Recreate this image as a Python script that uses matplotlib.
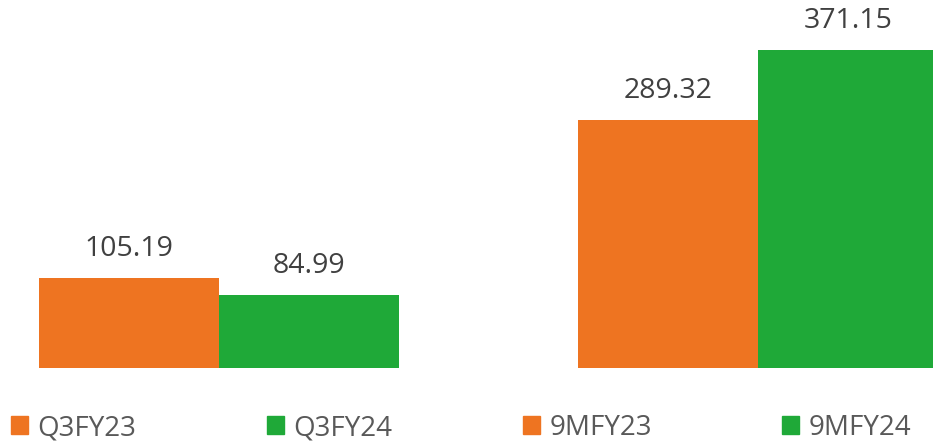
"""
Grouped bars: Q3 and 9M, FY23 vs FY24
"""

import numpy as np
import matplotlib.pyplot as plt
from matplotlib.patches import Patch

plt.rcParams['font.family'] = ['Open Sans', 'DejaVu Sans']

# data
groups = ["Q3", "9M"]
fy23 = [105.19, 289.32]
fy24 = [84.99, 371.15]
legend_labels = ["Q3FY23", "Q3FY24", "9MFY23", "9MFY24"]

orange = "#EE7421"
green = "#1FA938"

fig = plt.figure(figsize=(9.33, 4.45), dpi=100)
ax = fig.add_axes([0, 77/445, 1, 368/445])

x = np.arange(len(groups))
w = 0.334
b1 = ax.bar(x - w/2, fy23, width=w, color=orange)
b2 = ax.bar(x + w/2, fy24, width=w, color=green)

for bars in (b1, b2):
    ax.bar_label(bars, labels=[f"{v:.2f}" for v in bars.datavalues],
                 padding=11, fontsize=20.5, color="#404040")

ax.set_xlim(-0.406, 1.325)
ax.set_ylim(0, 430)
ax.axis("off")

# legend along the bottom
handles = [Patch(color=c) for c in (orange, green, orange, green)]
fig.legend(handles, legend_labels, ncol=4, loc="center left",
           bbox_to_anchor=(11/933, 17/445), frameon=False, fontsize=20,
           labelcolor="#595959", handlelength=0.62, handleheight=0.62,
           handletextpad=0.33, columnspacing=4.7, borderpad=0, borderaxespad=0)

plt.savefig("out.png", dpi=100)
